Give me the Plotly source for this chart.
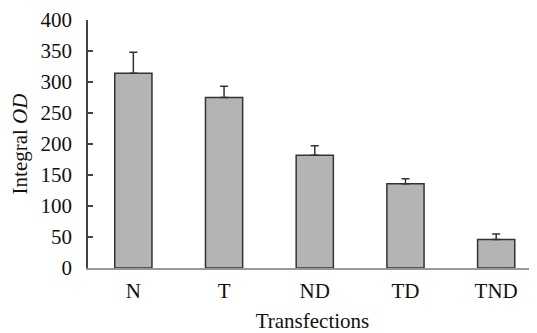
import plotly.graph_objects as go

categories = ["N", "T", "ND", "TD", "TND"]
values = [314, 275, 182, 136, 46]
errors = [34, 18, 15, 8, 9]

fig = go.Figure()
fig.add_trace(go.Bar(
    x=categories, y=values,
    width=0.41,
    marker=dict(color="#b4b4b4", line=dict(color="#333333", width=1.5)),
    error_y=dict(type="data", array=errors, arrayminus=[0]*len(errors), symmetric=False,
                 color="#333333", thickness=1.5, width=4),
))

font = "Liberation Serif, Times New Roman, serif"
# page body has an 8px default margin; the figure is sized to compensate
fig.update_layout(
    width=529, height=325,
    margin=dict(l=80, r=0, t=12, b=65, autoexpand=False),
    plot_bgcolor="white", paper_bgcolor="white",
    showlegend=False,
    font=dict(family=font, size=21, color="#111111"),
    xaxis=dict(
        range=[-0.5, 4.45], automargin=False,
        showline=True, linecolor="#999999", linewidth=1.5,
        ticks="", showgrid=False, ticklabelstandoff=3,
        title=dict(text="Transfections", font=dict(size=21), standoff=11),
        tickfont=dict(size=21),
    ),
    yaxis=dict(
        range=[0, 400], tickvals=[0, 50, 100, 150, 200, 250, 300, 350, 400],
        automargin=False, ticklabeloverflow="allow",
        showline=True, linecolor="#444444", linewidth=1.5,
        ticks="inside", ticklen=5, tickcolor="#444444", tickwidth=1.5,
        showgrid=False, zeroline=False, ticklabelstandoff=10,
        title=dict(text="Integral <i>OD</i>", font=dict(size=21), standoff=12),
        tickfont=dict(size=21),
    ),
)
fig.write_html("out.html")
